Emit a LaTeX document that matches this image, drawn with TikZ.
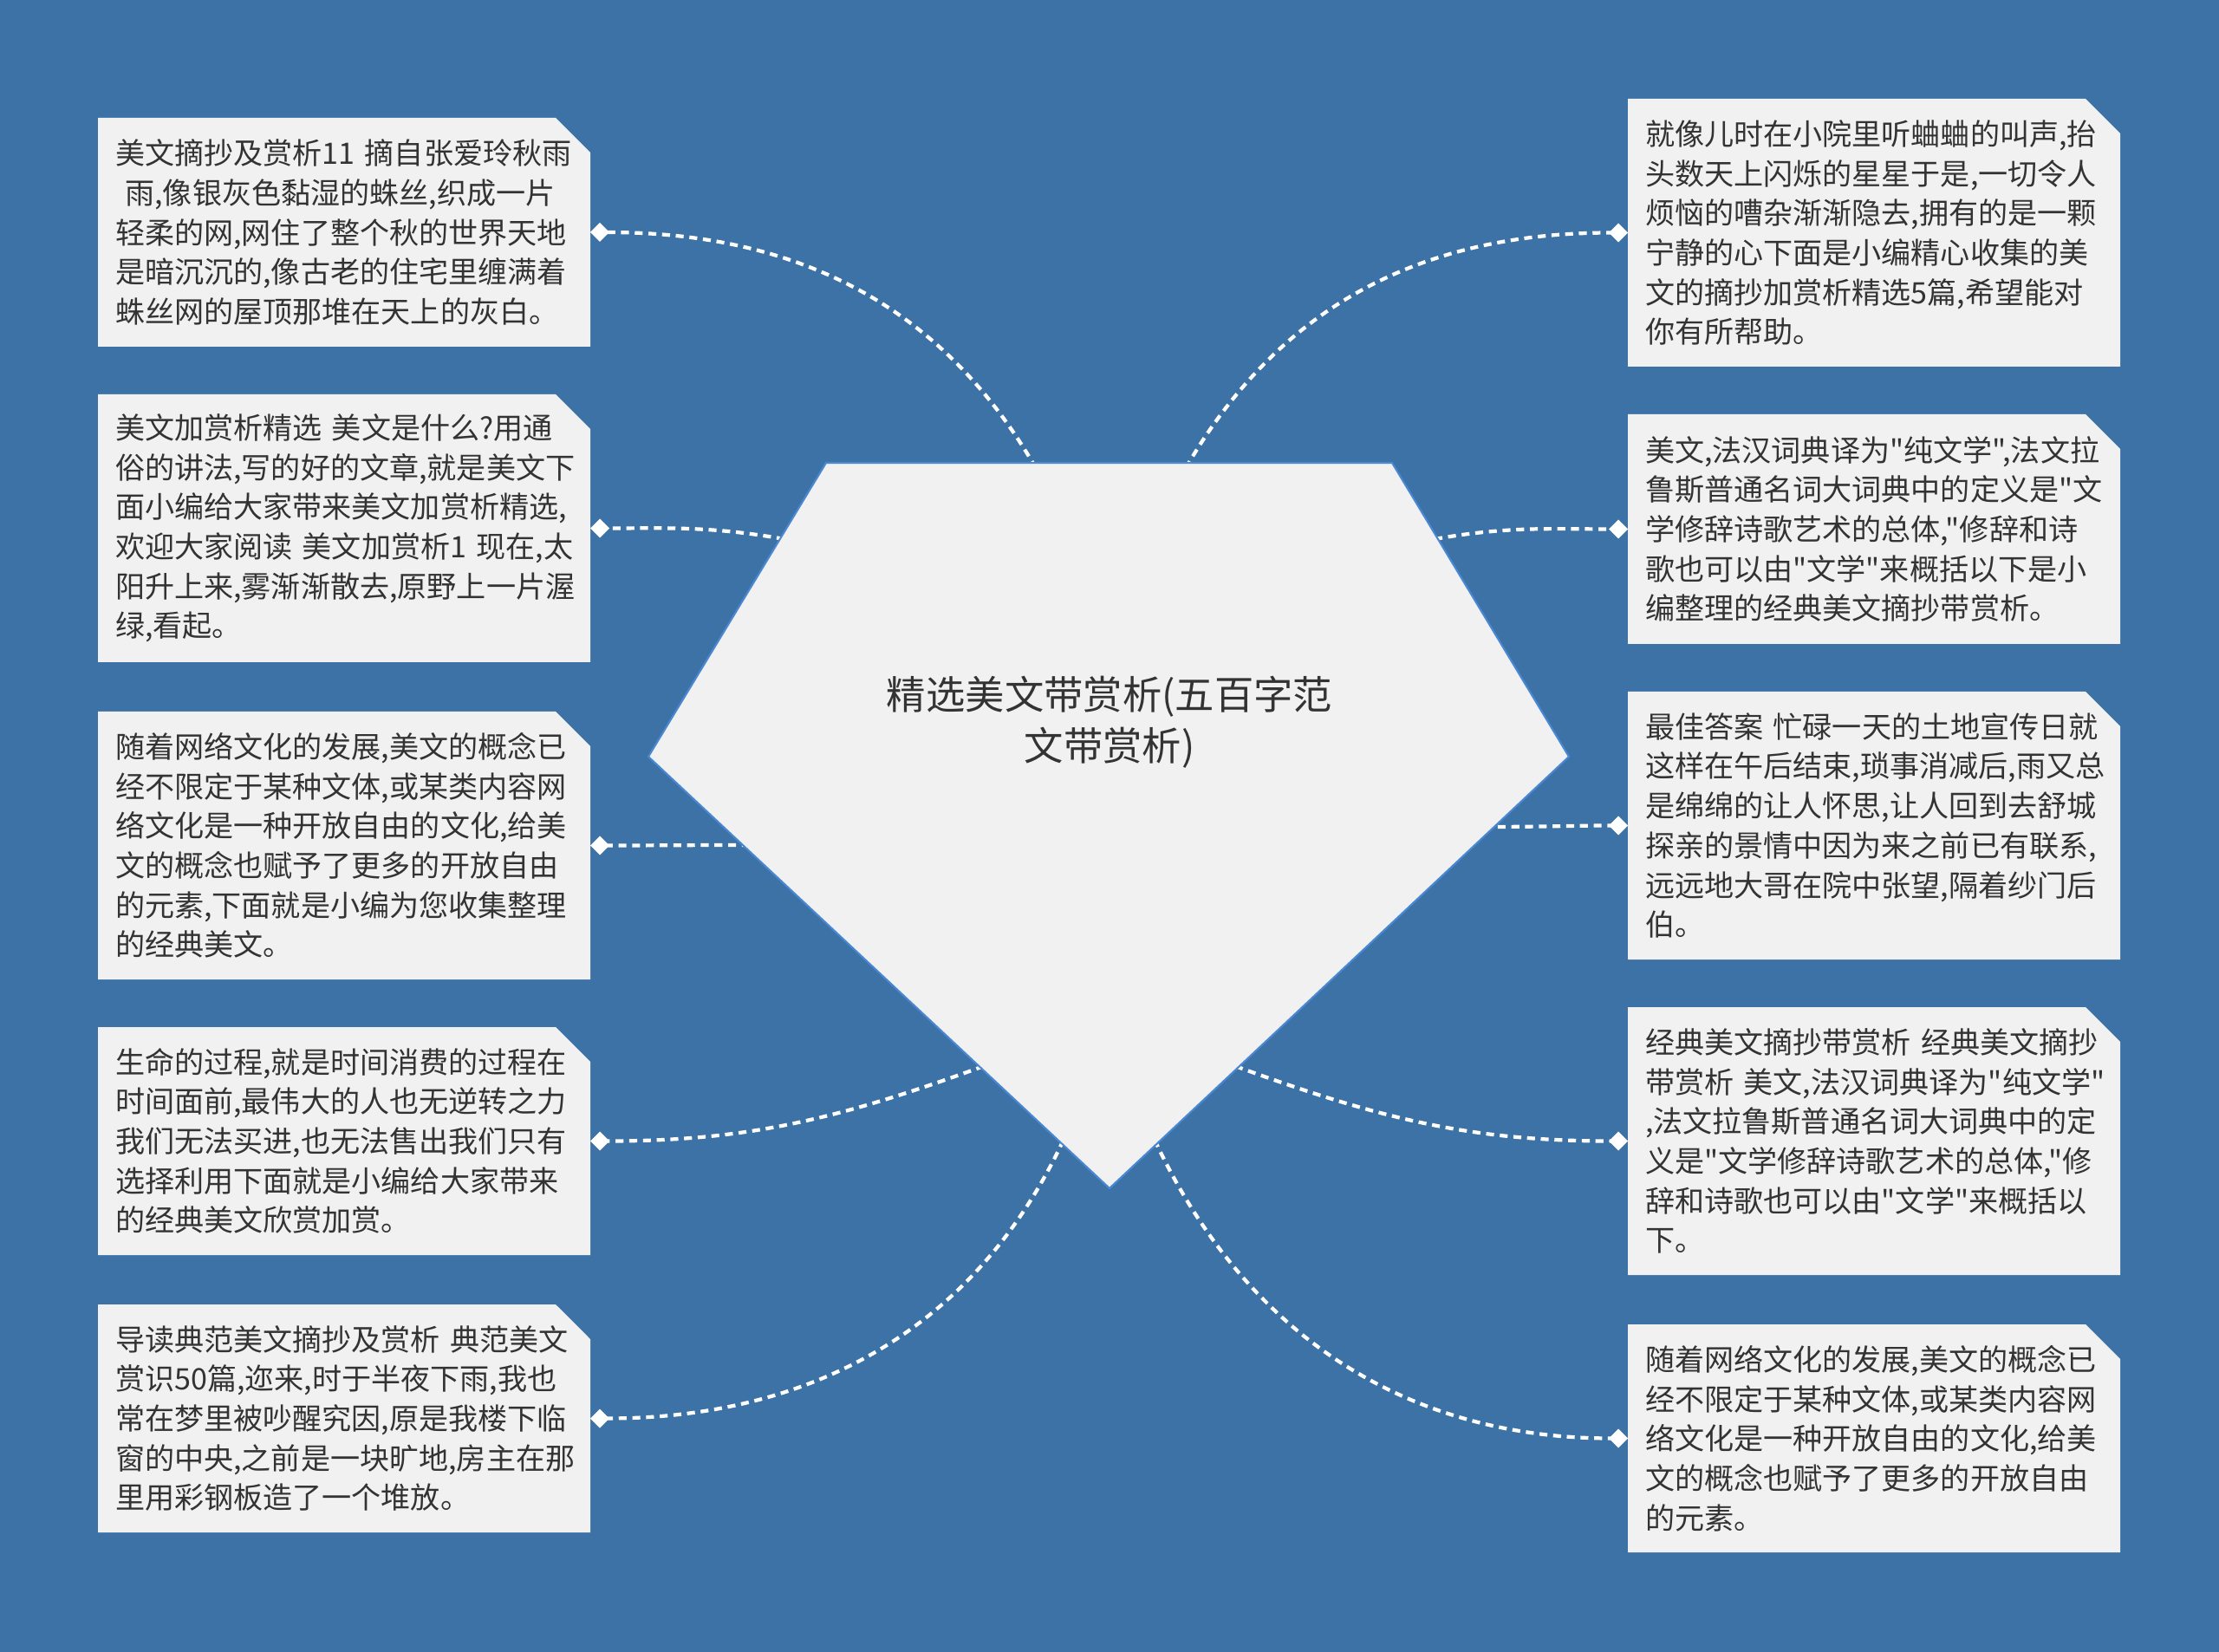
\documentclass[tikz,border=0pt]{standalone}
\usepackage{fontspec}
\newfontfamily\cjk{Noto Sans CJK SC}
\usepackage{xcolor}
\usepackage{tikz}
\usetikzlibrary{shapes.misc, arrows.meta, positioning, calc}
\definecolor{bgblue}{RGB}{61, 114, 166}
\definecolor{boxgray}{RGB}{241, 241, 241}
\definecolor{textgray}{RGB}{51, 51, 51}
\definecolor{edgeblue}{RGB}{74, 136, 212}

\tikzset{
  leafbox/.style={chamfered rectangle, chamfered rectangle corners=north east,
    chamfered rectangle xsep=0.2cm, chamfered rectangle ysep=0.2cm,
    fill=boxgray, text=textgray, outer sep=0pt, inner xsep=0pt, inner ysep=0pt,
    minimum width=5.68cm, text width=5.28cm, align=left,
    font=\cjk\fontsize{9.7pt}{13pt}\selectfont},
  hubtext/.style={text=textgray, align=center, font=\cjk\fontsize{12.9pt}{16.8pt}\selectfont},
  link/.style={white, line width=1.2pt, dash pattern=on 2.6pt off 1.9pt,
    -{Turned Square[width=0.22cm, length=0.22cm]}}
}

\begin{document}
\begin{tikzpicture}
    % Background
    \fill[bgblue] (0,0) rectangle (25.6,-19.06);
    \useasboundingbox (0,0) rectangle (25.6,-19.06);

    % Left leaves
    \node[leafbox, minimum height=2.64cm] (L1) at (3.97,-2.68) {美文摘抄及赏析11~摘自张爱玲秋雨\\~雨,像银灰色黏湿的蛛丝,织成一片\\轻柔的网,网住了整个秋的世界天地\\是暗沉沉的,像古老的住宅里缠满着\\蛛丝网的屋顶那堆在天上的灰白。};
    \node[leafbox, minimum height=3.09cm] (L2) at (3.97,-6.095) {美文加赏析精选~美文是什么?用通\\俗的讲法,写的好的文章,就是美文下\\面小编给大家带来美文加赏析精选,\\欢迎大家阅读~美文加赏析1~现在,太\\阳升上来,雾渐渐散去,原野上一片渥\\绿,看起。};
    \node[leafbox, minimum height=3.09cm] (L3) at (3.97,-9.755) {随着网络文化的发展,美文的概念已\\经不限定于某种文体,或某类内容网\\络文化是一种开放自由的文化,给美\\文的概念也赋予了更多的开放自由\\的元素,下面就是小编为您收集整理\\的经典美文。};
    \node[leafbox, minimum height=2.63cm] (L4) at (3.97,-13.165) {生命的过程,就是时间消费的过程在\\时间面前,最伟大的人也无逆转之力\\我们无法买进,也无法售出我们只有\\选择利用下面就是小编给大家带来\\的经典美文欣赏加赏。};
    \node[leafbox, minimum height=2.63cm] (L5) at (3.97,-16.365) {导读典范美文摘抄及赏析~典范美文\\赏识50篇,迩来,时于半夜下雨,我也\\常在梦里被吵醒究因,原是我楼下临\\窗的中央,之前是一块旷地,房主在那\\里用彩钢板造了一个堆放。};

    % Right leaves
    \node[leafbox, minimum height=3.09cm] (R1) at (21.62,-2.685) {就像儿时在小院里听蛐蛐的叫声,抬\\头数天上闪烁的星星于是,一切令人\\烦恼的嘈杂渐渐隐去,拥有的是一颗\\宁静的心下面是小编精心收集的美\\文的摘抄加赏析精选5篇,希望能对\\你有所帮助。};
    \node[leafbox, minimum height=2.65cm] (R2) at (21.62,-6.105) {美文,法汉词典译为"纯文学",法文拉\\鲁斯普通名词大词典中的定义是"文\\学修辞诗歌艺术的总体,"修辞和诗\\歌也可以由"文学"来概括以下是小\\编整理的经典美文摘抄带赏析。};
    \node[leafbox, minimum height=3.09cm] (R3) at (21.62,-9.525) {最佳答案~忙碌一天的土地宣传日就\\这样在午后结束,琐事消减后,雨又总\\是绵绵的让人怀思,让人回到去舒城\\探亲的景情中因为来之前已有联系,\\远远地大哥在院中张望,隔着纱门后\\伯。};
    \node[leafbox, minimum height=3.09cm] (R4) at (21.62,-13.165) {经典美文摘抄带赏析~经典美文摘抄\\带赏析~美文,法汉词典译为"纯文学"\\,法文拉鲁斯普通名词大词典中的定\\义是"文学修辞诗歌艺术的总体,"修\\辞和诗歌也可以由"文学"来概括以\\下。};
    \node[leafbox, minimum height=2.63cm] (R5) at (21.62,-16.595) {随着网络文化的发展,美文的概念已\\经不限定于某种文体,或某类内容网\\络文化是一种开放自由的文化,给美\\文的概念也赋予了更多的开放自由\\的元素。};

    % Exit points on the hub
    \coordinate (sL1) at (11.95,-5.40);
    \coordinate (sR1) at (13.68,-5.40);
    \coordinate (sL2) at (9.05,-6.22);
    \coordinate (sR2) at (16.55,-6.22);
    \coordinate (sL3) at (8.65,-9.75);
    \coordinate (sR3) at (17.12,-9.54);
    \coordinate (sL4) at (11.35,-12.30);
    \coordinate (sR4) at (14.25,-12.30);
    \coordinate (sL5) at (12.27,-13.15);
    \coordinate (sR5) at (13.32,-13.15);

    % Connections
    \draw[link] (sL1) to[out=120, in=0] (L1.east);
    \draw[link] (sL2) to[out=170, in=0] (L2.east);
    \draw[link] (sL3) to[out=180, in=0] (L3.east);
    \draw[link] (sL4) to[out=200, in=0] (L4.east);
    \draw[link] (sL5) to[out=245, in=0] (L5.east);
    \draw[link] (sR1) to[out=60, in=180] (R1.west);
    \draw[link] (sR2) to[out=10, in=180] (R2.west);
    \draw[link] (sR3) to[out=0, in=180] (R3.west);
    \draw[link] (sR4) to[out=-20, in=180] (R4.west);
    \draw[link] (sR5) to[out=-65, in=180] (R5.west);

    % Hub
    \fill[boxgray, draw=edgeblue, line width=0.6pt] (9.53,-5.34) -- (16.06,-5.34) -- (18.10,-8.73) -- (12.80,-13.71) -- (7.48,-8.73) -- cycle;
    \node[hubtext] (hub) at (12.80,-8.33) {精选美文带赏析(五百字范\\文带赏析)};
\end{tikzpicture}
\end{document}
